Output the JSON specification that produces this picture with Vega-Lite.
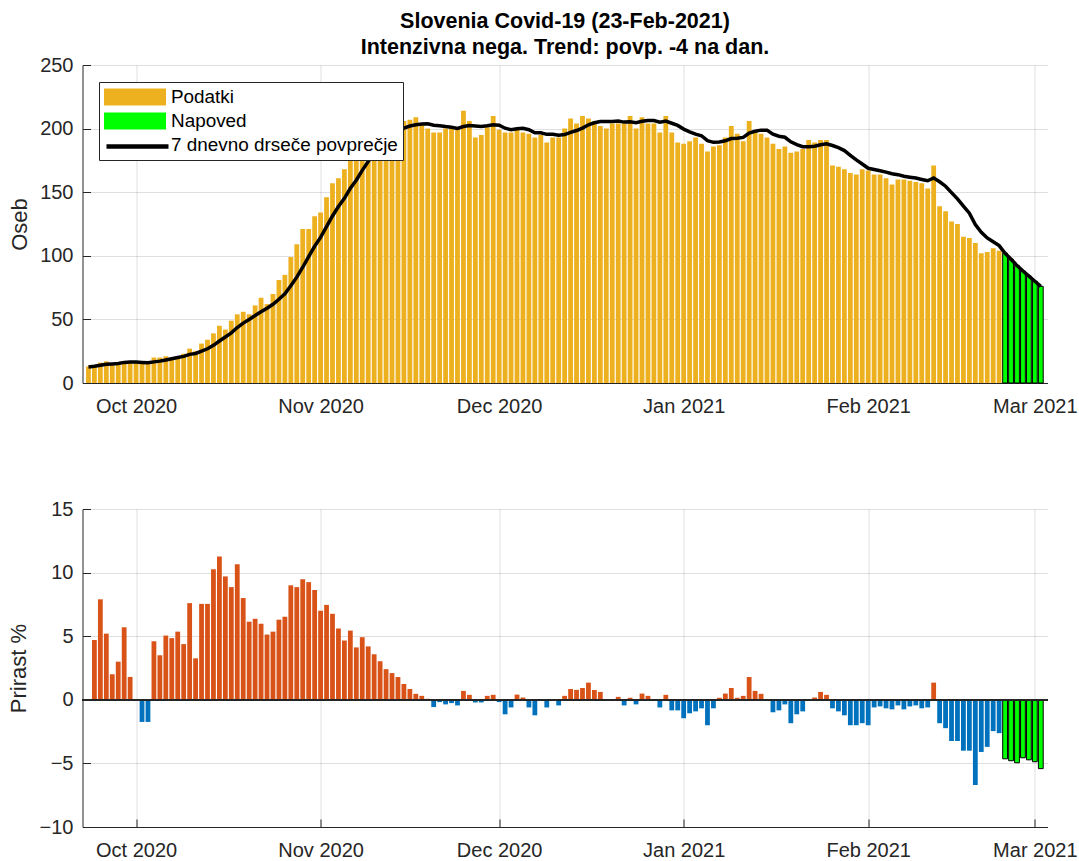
{
  "$schema": "https://vega.github.io/schema/vega-lite/v6.json",
  "background": "white",
  "padding": {"left": 7.5, "top": 10, "right": 0, "bottom": 0},
  "title": {
    "text": ["Slovenia Covid-19 (23-Feb-2021)", "Intenzivna nega. Trend: povp. -4 na dan."],
    "font": "Liberation Sans", "fontSize": 21.5, "fontWeight": "bold", "color": "#000000",
    "lineHeight": 26, "anchor": "middle", "frame": "group", "offset": -3
  },
  "config": {
    "view": {"stroke": null},
    "font": "Liberation Sans",
    "axis": {
      "labelFont": "Liberation Sans", "labelFontSize": 20, "labelColor": "#262626",
      "titleFont": "Liberation Sans", "titleFontSize": 22, "titleFontWeight": "normal", "titleColor": "#262626",
      "domainColor": "#262626", "tickColor": "#262626", "gridColor": "#262626", "gridOpacity": 0.15,
      "grid": true, "tickSize": -8, "labelFlush": false
    },
    "axisY": {"labelPadding": 17.5, "titlePadding": 8.5},
    "axisX": {"labelPadding": 21}
  },
  "datasets": {
    "covid": [
      {"date": "2020-09-23", "value": 13, "ma": 12.5, "pct": null, "type": "Podatki"},
      {"date": "2020-09-24", "value": 14, "ma": 13.1, "pct": 4.7, "type": "Podatki"},
      {"date": "2020-09-25", "value": 16, "ma": 14.0, "pct": 7.9, "type": "Podatki"},
      {"date": "2020-09-26", "value": 17, "ma": 14.7, "pct": 5.2, "type": "Podatki"},
      {"date": "2020-09-27", "value": 14, "ma": 15.0, "pct": 2.0, "type": "Podatki"},
      {"date": "2020-09-28", "value": 15, "ma": 15.4, "pct": 3.0, "type": "Podatki"},
      {"date": "2020-09-29", "value": 16, "ma": 16.2, "pct": 5.7, "type": "Podatki"},
      {"date": "2020-09-30", "value": 17, "ma": 16.5, "pct": 1.8, "type": "Podatki"},
      {"date": "2020-10-01", "value": 17, "ma": 16.5, "pct": 0, "type": "Podatki"},
      {"date": "2020-10-02", "value": 15, "ma": 16.2, "pct": -1.74, "type": "Podatki"},
      {"date": "2020-10-03", "value": 15, "ma": 15.9, "pct": -1.74, "type": "Podatki"},
      {"date": "2020-10-04", "value": 20, "ma": 16.6, "pct": 4.6, "type": "Podatki"},
      {"date": "2020-10-05", "value": 20, "ma": 17.2, "pct": 3.5, "type": "Podatki"},
      {"date": "2020-10-06", "value": 21, "ma": 18.1, "pct": 5.05, "type": "Podatki"},
      {"date": "2020-10-07", "value": 20, "ma": 19.0, "pct": 4.85, "type": "Podatki"},
      {"date": "2020-10-08", "value": 21, "ma": 20.0, "pct": 5.36, "type": "Podatki"},
      {"date": "2020-10-09", "value": 23, "ma": 20.9, "pct": 4.38, "type": "Podatki"},
      {"date": "2020-10-10", "value": 27, "ma": 22.5, "pct": 7.6, "type": "Podatki"},
      {"date": "2020-10-11", "value": 25, "ma": 23.2, "pct": 3.26, "type": "Podatki"},
      {"date": "2020-10-12", "value": 31, "ma": 25.0, "pct": 7.54, "type": "Podatki"},
      {"date": "2020-10-13", "value": 34, "ma": 26.9, "pct": 7.54, "type": "Podatki"},
      {"date": "2020-10-14", "value": 39, "ma": 29.6, "pct": 10.26, "type": "Podatki"},
      {"date": "2020-10-15", "value": 45, "ma": 33.0, "pct": 11.27, "type": "Podatki"},
      {"date": "2020-10-16", "value": 42, "ma": 36.2, "pct": 9.7, "type": "Podatki"},
      {"date": "2020-10-17", "value": 49, "ma": 39.4, "pct": 8.86, "type": "Podatki"},
      {"date": "2020-10-18", "value": 54, "ma": 43.6, "pct": 10.65, "type": "Podatki"},
      {"date": "2020-10-19", "value": 56, "ma": 47.1, "pct": 8.0, "type": "Podatki"},
      {"date": "2020-10-20", "value": 54, "ma": 50.0, "pct": 6.14, "type": "Podatki"},
      {"date": "2020-10-21", "value": 61, "ma": 53.0, "pct": 6.37, "type": "Podatki"},
      {"date": "2020-10-22", "value": 67, "ma": 56.0, "pct": 5.98, "type": "Podatki"},
      {"date": "2020-10-23", "value": 62, "ma": 58.8, "pct": 5.13, "type": "Podatki"},
      {"date": "2020-10-24", "value": 70, "ma": 61.9, "pct": 5.36, "type": "Podatki"},
      {"date": "2020-10-25", "value": 81, "ma": 65.8, "pct": 6.3, "type": "Podatki"},
      {"date": "2020-10-26", "value": 85, "ma": 70.1, "pct": 6.53, "type": "Podatki"},
      {"date": "2020-10-27", "value": 99, "ma": 76.4, "pct": 9.0, "type": "Podatki"},
      {"date": "2020-10-28", "value": 109, "ma": 83.2, "pct": 8.86, "type": "Podatki"},
      {"date": "2020-10-29", "value": 121, "ma": 91.0, "pct": 9.48, "type": "Podatki"},
      {"date": "2020-10-30", "value": 121, "ma": 99.4, "pct": 9.25, "type": "Podatki"},
      {"date": "2020-10-31", "value": 131, "ma": 107.5, "pct": 8.63, "type": "Podatki"},
      {"date": "2020-11-01", "value": 134, "ma": 114.5, "pct": 7.0, "type": "Podatki"},
      {"date": "2020-11-02", "value": 146, "ma": 123.0, "pct": 7.46, "type": "Podatki"},
      {"date": "2020-11-03", "value": 157, "ma": 131.3, "pct": 6.76, "type": "Podatki"},
      {"date": "2020-11-04", "value": 161, "ma": 138.7, "pct": 5.6, "type": "Podatki"},
      {"date": "2020-11-05", "value": 168, "ma": 145.2, "pct": 4.66, "type": "Podatki"},
      {"date": "2020-11-06", "value": 176, "ma": 153.1, "pct": 5.44, "type": "Podatki"},
      {"date": "2020-11-07", "value": 183, "ma": 159.4, "pct": 4.12, "type": "Podatki"},
      {"date": "2020-11-08", "value": 188, "ma": 167.2, "pct": 4.92, "type": "Podatki"},
      {"date": "2020-11-09", "value": 192, "ma": 174.2, "pct": 4.2, "type": "Podatki"},
      {"date": "2020-11-10", "value": 196, "ma": 180.4, "pct": 3.58, "type": "Podatki"},
      {"date": "2020-11-11", "value": 200, "ma": 185.9, "pct": 3.03, "type": "Podatki"},
      {"date": "2020-11-12", "value": 203, "ma": 190.4, "pct": 2.41, "type": "Podatki"},
      {"date": "2020-11-13", "value": 204, "ma": 194.4, "pct": 2.1, "type": "Podatki"},
      {"date": "2020-11-14", "value": 205, "ma": 197.9, "pct": 1.79, "type": "Podatki"},
      {"date": "2020-11-15", "value": 206, "ma": 200.3, "pct": 1.24, "type": "Podatki"},
      {"date": "2020-11-16", "value": 207, "ma": 202.0, "pct": 0.85, "type": "Podatki"},
      {"date": "2020-11-17", "value": 209, "ma": 203.0, "pct": 0.47, "type": "Podatki"},
      {"date": "2020-11-18", "value": 203, "ma": 203.6, "pct": 0.31, "type": "Podatki"},
      {"date": "2020-11-19", "value": 200, "ma": 203.8, "pct": 0.08, "type": "Podatki"},
      {"date": "2020-11-20", "value": 197, "ma": 202.6, "pct": -0.57, "type": "Podatki"},
      {"date": "2020-11-21", "value": 197, "ma": 202.3, "pct": -0.18, "type": "Podatki"},
      {"date": "2020-11-22", "value": 200, "ma": 201.6, "pct": -0.36, "type": "Podatki"},
      {"date": "2020-11-23", "value": 202, "ma": 201.1, "pct": -0.26, "type": "Podatki"},
      {"date": "2020-11-24", "value": 200, "ma": 200.2, "pct": -0.44, "type": "Podatki"},
      {"date": "2020-11-25", "value": 214, "ma": 201.6, "pct": 0.7, "type": "Podatki"},
      {"date": "2020-11-26", "value": 206, "ma": 202.4, "pct": 0.39, "type": "Podatki"},
      {"date": "2020-11-27", "value": 193, "ma": 202.0, "pct": -0.21, "type": "Podatki"},
      {"date": "2020-11-28", "value": 195, "ma": 201.6, "pct": -0.21, "type": "Podatki"},
      {"date": "2020-11-29", "value": 201, "ma": 202.2, "pct": 0.31, "type": "Podatki"},
      {"date": "2020-11-30", "value": 210, "ma": 203.0, "pct": 0.39, "type": "Podatki"},
      {"date": "2020-12-01", "value": 199, "ma": 202.6, "pct": -0.18, "type": "Podatki"},
      {"date": "2020-12-02", "value": 197, "ma": 200.3, "pct": -1.14, "type": "Podatki"},
      {"date": "2020-12-03", "value": 197, "ma": 199.1, "pct": -0.6, "type": "Podatki"},
      {"date": "2020-12-04", "value": 199, "ma": 199.9, "pct": 0.41, "type": "Podatki"},
      {"date": "2020-12-05", "value": 197, "ma": 200.3, "pct": 0.18, "type": "Podatki"},
      {"date": "2020-12-06", "value": 196, "ma": 199.1, "pct": -0.6, "type": "Podatki"},
      {"date": "2020-12-07", "value": 193, "ma": 196.7, "pct": -1.22, "type": "Podatki"},
      {"date": "2020-12-08", "value": 195, "ma": 196.7, "pct": 0, "type": "Podatki"},
      {"date": "2020-12-09", "value": 189, "ma": 195.5, "pct": -0.6, "type": "Podatki"},
      {"date": "2020-12-10", "value": 193, "ma": 195.5, "pct": 0, "type": "Podatki"},
      {"date": "2020-12-11", "value": 193, "ma": 194.7, "pct": -0.44, "type": "Podatki"},
      {"date": "2020-12-12", "value": 200, "ma": 195.3, "pct": 0.31, "type": "Podatki"},
      {"date": "2020-12-13", "value": 208, "ma": 197.0, "pct": 0.85, "type": "Podatki"},
      {"date": "2020-12-14", "value": 204, "ma": 198.5, "pct": 0.78, "type": "Podatki"},
      {"date": "2020-12-15", "value": 210, "ma": 200.4, "pct": 0.93, "type": "Podatki"},
      {"date": "2020-12-16", "value": 208, "ma": 203.0, "pct": 1.35, "type": "Podatki"},
      {"date": "2020-12-17", "value": 206, "ma": 204.6, "pct": 0.78, "type": "Podatki"},
      {"date": "2020-12-18", "value": 202, "ma": 205.5, "pct": 0.62, "type": "Podatki"},
      {"date": "2020-12-19", "value": 200, "ma": 205.5, "pct": 0, "type": "Podatki"},
      {"date": "2020-12-20", "value": 204, "ma": 205.5, "pct": 0, "type": "Podatki"},
      {"date": "2020-12-21", "value": 204, "ma": 206.0, "pct": 0.23, "type": "Podatki"},
      {"date": "2020-12-22", "value": 204, "ma": 205.1, "pct": -0.44, "type": "Podatki"},
      {"date": "2020-12-23", "value": 210, "ma": 205.4, "pct": 0.16, "type": "Podatki"},
      {"date": "2020-12-24", "value": 200, "ma": 204.7, "pct": -0.36, "type": "Podatki"},
      {"date": "2020-12-25", "value": 209, "ma": 205.7, "pct": 0.49, "type": "Podatki"},
      {"date": "2020-12-26", "value": 204, "ma": 206.3, "pct": 0.31, "type": "Podatki"},
      {"date": "2020-12-27", "value": 204, "ma": 206.3, "pct": 0, "type": "Podatki"},
      {"date": "2020-12-28", "value": 197, "ma": 205.1, "pct": -0.6, "type": "Podatki"},
      {"date": "2020-12-29", "value": 210, "ma": 205.9, "pct": 0.39, "type": "Podatki"},
      {"date": "2020-12-30", "value": 197, "ma": 204.2, "pct": -0.83, "type": "Podatki"},
      {"date": "2020-12-31", "value": 189, "ma": 202.5, "pct": -0.83, "type": "Podatki"},
      {"date": "2021-01-01", "value": 188, "ma": 199.6, "pct": -1.45, "type": "Podatki"},
      {"date": "2021-01-02", "value": 190, "ma": 197.5, "pct": -1.06, "type": "Podatki"},
      {"date": "2021-01-03", "value": 193, "ma": 195.7, "pct": -0.91, "type": "Podatki"},
      {"date": "2021-01-04", "value": 188, "ma": 194.4, "pct": -0.67, "type": "Podatki"},
      {"date": "2021-01-05", "value": 182, "ma": 190.5, "pct": -2.0, "type": "Podatki"},
      {"date": "2021-01-06", "value": 186, "ma": 189.2, "pct": -0.67, "type": "Podatki"},
      {"date": "2021-01-07", "value": 187, "ma": 189.5, "pct": 0.16, "type": "Podatki"},
      {"date": "2021-01-08", "value": 193, "ma": 190.4, "pct": 0.49, "type": "Podatki"},
      {"date": "2021-01-09", "value": 202, "ma": 192.2, "pct": 0.93, "type": "Podatki"},
      {"date": "2021-01-10", "value": 196, "ma": 192.5, "pct": 0.16, "type": "Podatki"},
      {"date": "2021-01-11", "value": 190, "ma": 193.1, "pct": 0.31, "type": "Podatki"},
      {"date": "2021-01-12", "value": 206, "ma": 196.5, "pct": 1.79, "type": "Podatki"},
      {"date": "2021-01-13", "value": 198, "ma": 197.9, "pct": 0.7, "type": "Podatki"},
      {"date": "2021-01-14", "value": 196, "ma": 198.8, "pct": 0.47, "type": "Podatki"},
      {"date": "2021-01-15", "value": 193, "ma": 198.8, "pct": 0, "type": "Podatki"},
      {"date": "2021-01-16", "value": 188, "ma": 195.6, "pct": -0.98, "type": "Podatki"},
      {"date": "2021-01-17", "value": 184, "ma": 194.0, "pct": -0.83, "type": "Podatki"},
      {"date": "2021-01-18", "value": 186, "ma": 193.2, "pct": -0.36, "type": "Podatki"},
      {"date": "2021-01-19", "value": 181, "ma": 189.6, "pct": -1.84, "type": "Podatki"},
      {"date": "2021-01-20", "value": 182, "ma": 187.4, "pct": -1.14, "type": "Podatki"},
      {"date": "2021-01-21", "value": 184, "ma": 185.8, "pct": -0.91, "type": "Podatki"},
      {"date": "2021-01-22", "value": 191, "ma": 185.8, "pct": 0, "type": "Podatki"},
      {"date": "2021-01-23", "value": 189, "ma": 186.1, "pct": 0.18, "type": "Podatki"},
      {"date": "2021-01-24", "value": 191, "ma": 187.3, "pct": 0.62, "type": "Podatki"},
      {"date": "2021-01-25", "value": 191, "ma": 188.0, "pct": 0.39, "type": "Podatki"},
      {"date": "2021-01-26", "value": 171, "ma": 186.7, "pct": -0.67, "type": "Podatki"},
      {"date": "2021-01-27", "value": 170, "ma": 185.0, "pct": -0.91, "type": "Podatki"},
      {"date": "2021-01-28", "value": 168, "ma": 182.7, "pct": -1.22, "type": "Podatki"},
      {"date": "2021-01-29", "value": 165, "ma": 179.0, "pct": -2.0, "type": "Podatki"},
      {"date": "2021-01-30", "value": 164, "ma": 175.4, "pct": -2.0, "type": "Podatki"},
      {"date": "2021-01-31", "value": 168, "ma": 172.2, "pct": -1.84, "type": "Podatki"},
      {"date": "2021-02-01", "value": 167, "ma": 168.8, "pct": -2.0, "type": "Podatki"},
      {"date": "2021-02-02", "value": 164, "ma": 167.8, "pct": -0.6, "type": "Podatki"},
      {"date": "2021-02-03", "value": 164, "ma": 166.9, "pct": -0.52, "type": "Podatki"},
      {"date": "2021-02-04", "value": 161, "ma": 165.8, "pct": -0.67, "type": "Podatki"},
      {"date": "2021-02-05", "value": 156, "ma": 164.5, "pct": -0.75, "type": "Podatki"},
      {"date": "2021-02-06", "value": 160, "ma": 163.8, "pct": -0.44, "type": "Podatki"},
      {"date": "2021-02-07", "value": 160, "ma": 162.6, "pct": -0.75, "type": "Podatki"},
      {"date": "2021-02-08", "value": 159, "ma": 161.8, "pct": -0.52, "type": "Podatki"},
      {"date": "2021-02-09", "value": 158, "ma": 161.1, "pct": -0.44, "type": "Podatki"},
      {"date": "2021-02-10", "value": 157, "ma": 160.0, "pct": -0.67, "type": "Podatki"},
      {"date": "2021-02-11", "value": 153, "ma": 159.0, "pct": -0.6, "type": "Podatki"},
      {"date": "2021-02-12", "value": 171, "ma": 161.2, "pct": 1.35, "type": "Podatki"},
      {"date": "2021-02-13", "value": 139, "ma": 158.2, "pct": -1.84, "type": "Podatki"},
      {"date": "2021-02-14", "value": 135, "ma": 154.7, "pct": -2.23, "type": "Podatki"},
      {"date": "2021-02-15", "value": 127, "ma": 149.7, "pct": -3.24, "type": "Podatki"},
      {"date": "2021-02-16", "value": 125, "ma": 144.8, "pct": -3.24, "type": "Podatki"},
      {"date": "2021-02-17", "value": 115, "ma": 139.0, "pct": -4.0, "type": "Podatki"},
      {"date": "2021-02-18", "value": 114, "ma": 133.5, "pct": -4.0, "type": "Podatki"},
      {"date": "2021-02-19", "value": 110, "ma": 124.6, "pct": -6.7, "type": "Podatki"},
      {"date": "2021-02-20", "value": 102, "ma": 118.5, "pct": -4.1, "type": "Podatki"},
      {"date": "2021-02-21", "value": 103, "ma": 114.0, "pct": -3.7, "type": "Podatki"},
      {"date": "2021-02-22", "value": 106, "ma": 111.0, "pct": -2.46, "type": "Podatki"},
      {"date": "2021-02-23", "value": 104, "ma": 108.0, "pct": -2.62, "type": "Podatki"},
      {"date": "2021-02-24", "value": 102, "ma": 102, "pct": -4.64, "type": "Napoved"},
      {"date": "2021-02-25", "value": 97.3, "ma": 97.3, "pct": -4.79, "type": "Napoved"},
      {"date": "2021-02-26", "value": 92.3, "ma": 92.3, "pct": -4.95, "type": "Napoved"},
      {"date": "2021-02-27", "value": 88, "ma": 88, "pct": -4.56, "type": "Napoved"},
      {"date": "2021-02-28", "value": 84, "ma": 84, "pct": -4.72, "type": "Napoved"},
      {"date": "2021-03-01", "value": 80, "ma": 80, "pct": -4.87, "type": "Napoved"},
      {"date": "2021-03-02", "value": 76, "ma": 76, "pct": -5.41, "type": "Napoved"}
    ]
  },
  "data": {"name": "covid"},
  "bounds": "flush",
  "spacing": 126,
  "vconcat": [
    {
      "width": 965,
      "height": 318,
      "layer": [
        {
          "mark": {"type": "bar", "size": 4.8},
          "encoding": {
            "x": {
              "field": "date", "type": "temporal",
              "scale": {"type": "utc", "padding": 0, "domain": [{"year": 2020, "month": 9, "date": 22, "utc": true}, {"year": 2021, "month": 3, "date": 3, "hours": 3, "utc": true}]},
              "axis": {"title": null, "format": "%b %Y", "tickCount": {"interval": "month", "step": 1}}
            },
            "y": {
              "field": "value", "type": "quantitative",
              "scale": {"domain": [0, 250], "nice": false},
              "axis": {"title": "Oseb", "values": [0, 50, 100, 150, 200, 250]}
            },
            "color": {
              "field": "type", "type": "nominal",
              "scale": {"domain": ["Podatki", "Napoved", "7 dnevno drseče povprečje"], "range": ["#EDB120", "#00FF00", "#FFFFFF"]},
              "legend": {
                "title": null, "orient": "none", "legendX": 16.5, "legendY": 17, "direction": "vertical",
                "fillColor": "#ffffff", "strokeColor": "#262626", "padding": 5,
                "labelFont": "Liberation Sans", "labelFontSize": 18.9, "labelColor": "#000000", "labelLimit": 400,
                "symbolSize": 400, "symbolOffset": 21, "labelOffset": 26, "rowPadding": 4,
                "symbolStrokeColor": "transparent", "symbolStrokeWidth": 0,
                "symbolType": "M-3.1,-0.85H3.1V0.85H-3.1Z"
              }
            },
            "stroke": {"condition": {"test": "datum.type === 'Napoved'", "value": "#000000"}, "value": "transparent"},
            "strokeWidth": {"condition": {"test": "datum.type === 'Napoved'", "value": 1}, "value": 0}
          }
        },
        {
          "mark": {"type": "line", "strokeWidth": 3.5},
          "encoding": {
            "x": {"field": "date", "type": "temporal"},
            "y": {"field": "ma", "type": "quantitative"},
            "stroke": {
              "datum": "7 dnevno drseče povprečje", "type": "nominal",
              "scale": {"range": ["#000000"]},
              "legend": {
                "title": null, "orient": "none", "legendX": 16.5, "legendY": 64, "direction": "vertical",
                "padding": 5,
                "labelFont": "Liberation Sans", "labelFontSize": 18.9, "labelLimit": 400, "labelOpacity": 0,
                "labelExpr": "''",
                "symbolSize": 400, "symbolOffset": 21, "labelOffset": 26,
                "symbolType": "M-3.1,0H3.1", "symbolStrokeWidth": 4.5, "symbolStrokeColor": "#000000"
              }
            }
          }
        }
      ]
    },
    {
      "width": 965,
      "height": 318,
      "layer": [
        {
          "mark": {"type": "bar", "size": 4.8},
          "encoding": {
            "x": {
              "field": "date", "type": "temporal",
              "scale": {"type": "utc", "padding": 0, "domain": [{"year": 2020, "month": 9, "date": 22, "utc": true}, {"year": 2021, "month": 3, "date": 3, "hours": 3, "utc": true}]},
              "axis": {"title": null, "format": "%b %Y", "tickCount": {"interval": "month", "step": 1}}
            },
            "y": {
              "field": "pct", "type": "quantitative",
              "scale": {"domain": [-10, 15], "nice": false},
              "axis": {"title": "Prirast %", "values": [-10, -5, 0, 5, 10, 15]}
            },
            "color": {
              "condition": [{"test": "datum.type === 'Napoved'", "value": "#00FF00"}, {"test": "datum.pct >= 0", "value": "#D95319"}],
              "value": "#0072BD"
            },
            "stroke": {"condition": {"test": "datum.type === 'Napoved'", "value": "#000000"}, "value": "transparent"},
            "strokeWidth": {"condition": {"test": "datum.type === 'Napoved'", "value": 1}, "value": 0}
          }
        },
        {
          "mark": {"type": "rule", "color": "#262626", "strokeWidth": 1},
          "encoding": {"y": {"datum": 0}}
        }
      ]
    }
  ]
}
